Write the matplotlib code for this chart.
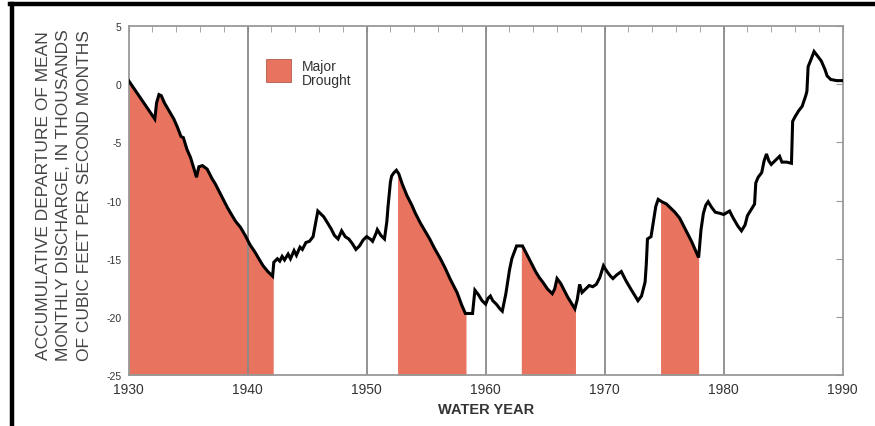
import numpy as np
import matplotlib
matplotlib.use("Agg")
import matplotlib.pyplot as plt
from matplotlib.lines import Line2D
from matplotlib.patches import Rectangle

# ---- data ----
years = [1930.0, 1930.4, 1930.8, 1931.2, 1931.6, 1932.0, 1932.2, 1932.35, 1932.55, 1932.75,
         1933.0, 1933.4, 1933.8, 1934.1, 1934.4, 1934.6, 1934.9, 1935.2, 1935.5, 1935.7,
         1935.9, 1936.2, 1936.6, 1937.0, 1937.3, 1937.5, 1937.9, 1938.3, 1938.7, 1939.0,
         1939.4, 1939.8, 1940.2, 1940.6, 1941.0, 1941.3, 1941.7, 1942.1, 1942.2, 1942.5,
         1942.7, 1942.9, 1943.1, 1943.4, 1943.6, 1943.9, 1944.1, 1944.4, 1944.6, 1944.9,
         1945.2, 1945.5, 1945.7, 1945.9, 1946.1, 1946.4, 1946.7, 1947.0, 1947.3, 1947.6,
         1947.9, 1948.2, 1948.5, 1948.8, 1949.1, 1949.4, 1949.7, 1950.0, 1950.3, 1950.5,
         1950.8, 1950.9, 1951.2, 1951.5, 1951.7, 1951.8, 1952.0, 1952.1, 1952.3, 1952.5,
         1952.7, 1953.0, 1953.4, 1953.8, 1954.1, 1954.5, 1954.9, 1955.3, 1955.7, 1956.2,
         1956.6, 1957.0, 1957.3, 1957.6, 1958.0, 1958.3, 1958.9, 1959.1, 1959.4, 1959.7,
         1960.0, 1960.2, 1960.4, 1960.6, 1960.9, 1961.2, 1961.4, 1961.7, 1962.0, 1962.2,
         1962.6, 1963.1, 1963.4, 1963.8, 1964.2, 1964.5, 1964.8, 1965.2, 1965.6, 1965.8,
         1966.0, 1966.3, 1966.6, 1966.9, 1967.2, 1967.5, 1967.7, 1967.9, 1968.1, 1968.4,
         1968.7, 1969.0, 1969.3, 1969.6, 1969.9, 1970.2, 1970.5, 1970.7, 1971.0, 1971.4,
         1971.8, 1972.2, 1972.5, 1972.8, 1973.1, 1973.4, 1973.5, 1973.6, 1973.9, 1974.1,
         1974.3, 1974.5, 1974.8, 1975.2, 1975.5, 1975.9, 1976.3, 1976.7, 1977.0, 1977.3,
         1977.6, 1977.9, 1978.1, 1978.3, 1978.5, 1978.7, 1979.0, 1979.3, 1979.7, 1980.0,
         1980.5, 1980.8, 1981.2, 1981.5, 1981.8, 1982.0, 1982.3, 1982.6, 1982.7, 1982.9,
         1983.2, 1983.4, 1983.6, 1983.8, 1984.0, 1984.4, 1984.7, 1984.9, 1985.3, 1985.7,
         1985.8, 1986.0, 1986.3, 1986.6, 1986.9, 1987.0, 1987.1, 1987.3, 1987.6, 1987.9,
         1988.2, 1988.5, 1988.7, 1989.0, 1989.5, 1990.0]
departure = [0.3, -0.3, -0.9, -1.5, -2.1, -2.7, -3.0, -1.6, -0.9, -1.0,
             -1.6, -2.3, -3.0, -3.7, -4.5, -4.6, -5.6, -6.3, -7.3, -8.0,
             -7.1, -7.0, -7.3, -8.1, -8.6, -9.0, -9.8, -10.6, -11.3, -11.8,
             -12.3, -13.0, -13.8, -14.4, -15.1, -15.6, -16.1, -16.5, -15.3, -15.0,
             -15.2, -14.8, -15.1, -14.6, -15.0, -14.3, -14.7, -14.0, -14.2, -13.6,
             -13.5, -13.1, -12.0, -10.9, -11.1, -11.4, -11.9, -12.4, -13.0, -13.3,
             -12.6, -13.1, -13.3, -13.7, -14.2, -13.9, -13.4, -13.1, -13.3, -13.5,
             -12.8, -12.5, -13.0, -13.3, -11.8, -10.5, -8.4, -7.9, -7.6, -7.4,
             -7.7, -8.6, -9.6, -10.4, -11.1, -11.9, -12.6, -13.3, -14.1, -15.0,
             -15.8, -16.7, -17.3, -17.9, -19.0, -19.7, -19.7, -17.7, -18.1, -18.6,
             -18.9, -18.4, -18.2, -18.6, -18.9, -19.3, -19.5, -18.0, -16.0, -15.0,
             -13.9, -13.9, -14.5, -15.3, -16.1, -16.6, -17.0, -17.6, -18.0, -17.6,
             -16.7, -17.1, -17.7, -18.3, -18.8, -19.3, -18.5, -17.2, -17.9, -17.6,
             -17.3, -17.4, -17.2, -16.6, -15.6, -16.1, -16.5, -16.7, -16.4, -16.1,
             -16.9, -17.6, -18.1, -18.6, -18.2, -17.0, -15.5, -13.3, -13.1, -11.8,
             -10.5, -9.9, -10.1, -10.3, -10.6, -11.0, -11.5, -12.3, -12.9, -13.5,
             -14.2, -14.9, -12.5, -11.1, -10.4, -10.1, -10.6, -11.0, -11.1, -11.2,
             -10.9, -11.5, -12.2, -12.6, -12.1, -11.3, -10.8, -10.3, -8.5, -8.0,
             -7.6, -6.6, -6.0, -6.6, -6.9, -6.5, -6.2, -6.7, -6.7, -6.8,
             -3.2, -2.8, -2.3, -1.9, -1.0, -0.6, 1.5, 2.0, 2.8, 2.4,
             2.0, 1.3, 0.7, 0.4, 0.3, 0.3]
drought_start = [1930.0, 1952.6, 1963.0, 1974.7]
drought_end = [1942.15, 1958.35, 1967.55, 1977.9]
decade_lines = [1940, 1950, 1960, 1970, 1980]
x_ticks = [1930, 1940, 1950, 1960, 1970, 1980, 1990]
y_ticks = [5, 0, -5, -10, -15, -20, -25]
y_tick_labels = ["5", "0", "-5", "-10", "-15", "-20", "-25"]

FILL = "#E8735F"
GRID = "#8a8a8a"
TXT = "#333333"
fam = ["Liberation Sans Narrow", "Liberation Sans", "DejaVu Sans"]
fam2 = ["Liberation Sans", "DejaVu Sans"]

yr = np.array(years)
dep = np.array(departure)

fig = plt.figure(figsize=(8.75, 4.27), dpi=100)
ax = fig.add_axes([0.147, 0.119, 0.816, 0.818])
ax.set_xlim(1930, 1990)
ax.set_ylim(-25, 5)

# drought fills
for a, b in zip(drought_start, drought_end):
    m = (yr > a) & (yr < b)
    xs = np.concatenate([[a], yr[m], [b]])
    ys = np.concatenate([[np.interp(a, yr, dep)], dep[m], [np.interp(b, yr, dep)]])
    ax.fill_between(xs, ys, -25, color=FILL, lw=0, zorder=1)

for d in decade_lines:
    ax.axvline(d, color=GRID, lw=1.3, zorder=2)

ax.plot(yr, dep, color="black", lw=2.2, zorder=3, solid_joinstyle="miter")

# spines / ticks
for s in ax.spines.values():
    s.set_color("#999999")
    s.set_linewidth(1.3)
ax.set_xticks(x_ticks)
ax.set_xticklabels([str(t) for t in x_ticks], family=fam, fontsize=10, color=TXT)
ax.set_xticks(np.arange(1930, 1991, 2), minor=True)
ax.set_yticks(y_ticks)
ax.set_yticklabels(y_tick_labels, family=fam, fontsize=7.5, color=TXT)
ax.tick_params(axis="x", which="major", bottom=False, top=True, direction="in",
               length=4, color="#999999", pad=5)
ax.tick_params(axis="x", which="minor", bottom=False, top=True, direction="in",
               length=4, color="#999999")
ax.tick_params(axis="y", which="major", left=False, right=True, direction="in",
               length=5, color="#999999", pad=5)

ax.set_xlabel("WATER YEAR", family=fam2, fontsize=10.5, fontweight="bold",
              color=TXT, labelpad=4)
fig.text(0.073, 0.543,
         "ACCUMULATIVE DEPARTURE OF MEAN\nMONTHLY DISCHARGE, IN THOUSANDS\nOF CUBIC FEET PER SECOND MONTHS",
         rotation=90, ha="center", va="center", family=fam2, fontsize=12.5,
         color="#444444", linespacing=1.45)

# legend
ax.add_patch(Rectangle((0.193, 0.84), 0.034, 0.066, transform=ax.transAxes,
                       facecolor=FILL, edgecolor="#b05a4a", lw=0.6, zorder=4))
ax.text(0.243, 0.905, "Major\nDrought", transform=ax.transAxes, ha="left",
        va="top", family=fam2, fontsize=10, color=TXT, linespacing=1.0)

# outer frame lines (top and left)
fig.add_artist(Line2D([0.011, 1.0], [0.988, 0.988], transform=fig.transFigure,
                      color="black", lw=3.2))
fig.add_artist(Line2D([0.0137, 0.0137], [0.0, 0.988], transform=fig.transFigure,
                      color="black", lw=3.2))

fig.savefig("out.png", dpi=100)
